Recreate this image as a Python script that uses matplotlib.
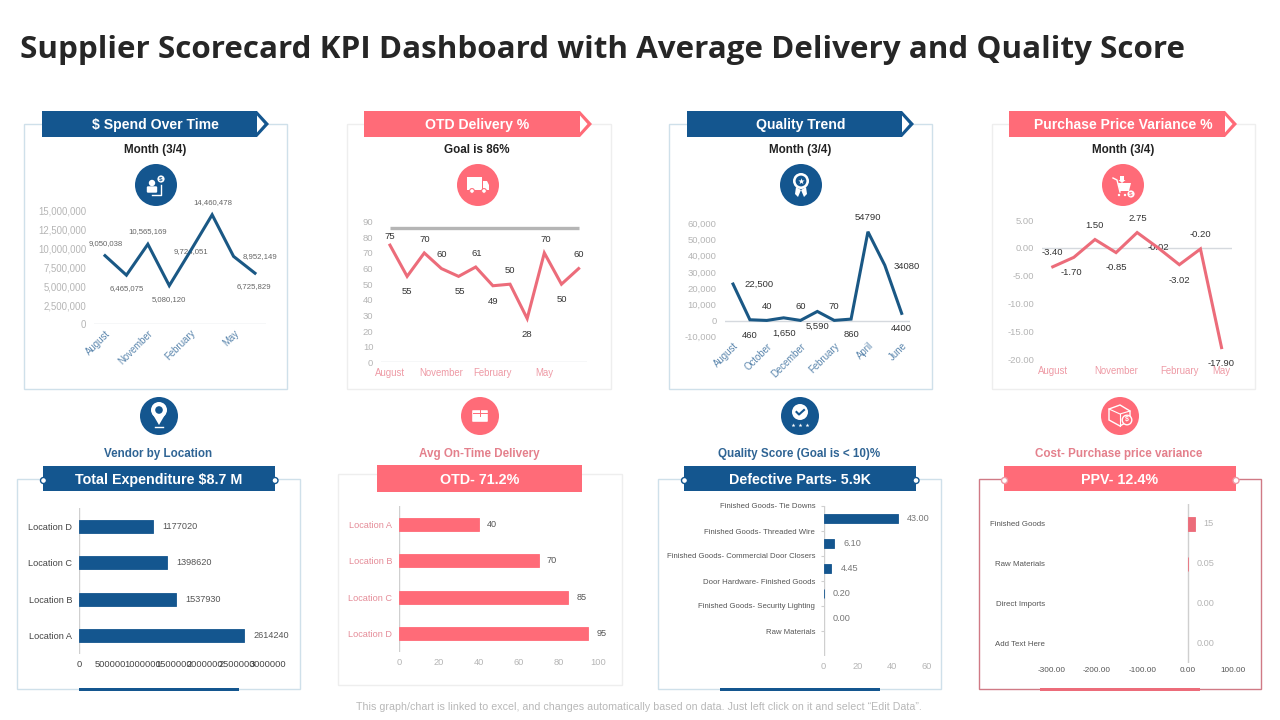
import matplotlib
matplotlib.use('Agg')
import matplotlib.pyplot as plt
from matplotlib.patches import Circle, Polygon, Rectangle, FancyBboxPatch
import numpy as np

plt.rcParams['font.family'] = ['Liberation Sans', 'DejaVu Sans']

NAVY = '#14568f'
PINK = '#ff6b78'
LINE_NAVY = '#1a5885'
LINE_PINK = '#ec6c7a'

# line charts
spend_ticks = ['August', 'November', 'February', 'May']
spend = [9050038, 6465075, 10565169, 5080120, 9724051, 14460478, 8952149, 6725829]
spend_labels = ['9,050,038', '6,465,075', '10,565,169', '5,080,120', '9,724,051', '14,460,478', '8,952,149', '6,725,829']
spend_y = [0, 2500000, 5000000, 7500000, 10000000, 12500000, 15000000]

otd_ticks = ['August', 'November', 'February', 'May']
otd = [75, 55, 70, 60, 55, 61, 49, 50, 28, 70, 50, 60]
otd_goal = 86
otd_y = [0, 10, 20, 30, 40, 50, 60, 70, 80, 90]

quality_ticks = ['August', 'October', 'December', 'February', 'April', 'June']
quality = [22500, 460, 40, 1650, 60, 5590, 70, 860, 54790, 34080, 4400]
quality_labels = ['22,500', '460', '40', '1,650', '60', '5,590', '70', '860', '54790', '34080', '4400']
quality_y = [-10000, 0, 10000, 20000, 30000, 40000, 50000, 60000]

ppv_ticks = ['August', 'November', 'February', 'May']
ppv = [-3.40, -1.70, 1.50, -0.85, 2.75, -0.02, -3.02, -0.20, -17.90]
ppv_y = [-20, -15, -10, -5, 0, 5]

# bar charts
vendor_cats = ['Location A', 'Location B', 'Location C', 'Location D']
vendor = [2614240, 1537930, 1398620, 1177020]
vendor_x = [0, 500000, 1000000, 1500000, 2000000, 2500000, 3000000]

ontime_cats = ['Location A', 'Location B', 'Location C', 'Location D']
ontime = [40, 70, 85, 95]
ontime_x = [0, 20, 40, 60, 80, 100]

defect_cats = ['Finished Goods- Tie Downs', 'Finished Goods- Threaded Wire', 'Finished Goods- Commercial Door Closers',
               'Door Hardware- Finished Goods', 'Finished Goods- Security Lighting', 'Raw Materials']
defect = [43.00, 6.10, 4.45, 0.20, 0.00]
defect_x = [0, 20, 40, 60]

cost_cats = ['Finished Goods', 'Raw Materials', 'Direct Imports', 'Add Text Here']
cost = [15, 0.05, 0.00, 0.00]
cost_labels = ['15', '0.05', '0.00', '0.00']
cost_x = [-300, -200, -100, 0, 100]

fig = plt.figure(figsize=(12.8, 7.2), dpi=100)
bg = fig.add_axes([0, 0, 1, 1])
bg.set_xlim(0, 1280)
bg.set_ylim(720, 0)
bg.axis('off')


def px_axes(left, right, top, bottom):
    ax = fig.add_axes([left / 1280, 1 - bottom / 720, (right - left) / 1280, (bottom - top) / 720])
    ax.patch.set_alpha(0)
    for s in ax.spines.values():
        s.set_visible(False)
    ax.tick_params(length=0)
    return ax


def txt(x, y, s, size, color='#222222', weight='normal', ha='center', **kw):
    bg.text(x, y + 1, s, fontsize=size, color=color, fontweight=weight, ha=ha, va='center', **kw)


def frame(x0, x1, y0, y1, color, lw=1.0):
    bg.add_patch(Rectangle((x0, y0), x1 - x0, y1 - y0, fc='none', ec=color, lw=lw))


def arrow_header(x0, x1, color, label, tx=None):
    bg.add_patch(Rectangle((x0, 111), x1 - x0, 26, fc=color, ec='none', zorder=3))
    bg.add_patch(Polygon([(x1, 111), (x1 + 12, 124), (x1, 137)], fc=color, ec='none', zorder=3))
    bg.add_patch(Polygon([(x1, 115.5), (x1 + 7.5, 124), (x1, 132.5)], fc='white', ec='none', zorder=3))
    txt(tx if tx else (x0 + x1) / 2, 124, label, 10.1, 'white', 'bold', zorder=4)


def bar_header(x0, x1, y0, y1, color, label):
    bg.add_patch(Rectangle((x0, y0), x1 - x0, y1 - y0, fc=color, ec='none', zorder=3))
    txt((x0 + x1) / 2, 479, label, 10.3, 'white', 'bold', zorder=4)


def knobs(x0, x1, color):
    for x in (x0, x1):
        bg.add_patch(Circle((x, 480.5), 3, fc='white', ec=color, lw=1, zorder=5))


def line_chart(box, vals, color, yticks, yfmt, ticks, tick_idx, tick_color, labels, offsets,
               rot=0, tick_pad=4, lab_size=6.8, lab_color='#333333'):
    ax = px_axes(*box[:4])
    x = np.arange(len(vals))
    ax.set_xlim(-0.5, len(vals) - 0.5)
    ax.set_ylim(yticks[0], yticks[-1])
    ax.plot(x, vals, color=color, lw=2.2, solid_joinstyle='miter', zorder=4, clip_on=False)
    ax.axhline(0, color='#d5d9de', lw=1, zorder=1)
    ax.set_yticks(yticks, [yfmt(v) for v in yticks], fontsize=box[4], color='#b5b5b5')
    ax.tick_params(axis='y', pad=5.8)
    if rot:
        ax.set_xticks(tick_idx, ticks, fontsize=6.9, color=tick_color, rotation=rot, ha='right', rotation_mode='anchor')
    else:
        ax.set_xticks(tick_idx, ticks, fontsize=6.9, color=tick_color)
    ax.tick_params(axis='x', pad=tick_pad)
    for xi, v, s, (dx, dy) in zip(x, vals, labels, offsets):
        ax.annotate(s, (xi, v), xytext=(dx * 0.72, dy * 0.72), textcoords='offset points', ha='center', va='center',
                    fontsize=lab_size, color=lab_color, zorder=2, annotation_clip=False)
    return ax


def bar_chart(box, vals, cats, xticks, color, cat_color, labels, lab_color, size, gap=9, bar_h=0.35, shift=0):
    ax = px_axes(*box)
    n = len(cats)
    pos = np.arange(len(vals)) + shift
    ax.set_xlim(xticks[0], xticks[-1])
    ax.set_ylim(n - 0.5 + shift, -0.5 + shift)
    ax.barh(pos, vals, height=bar_h, color=color, edgecolor=[color if v > 0 else 'none' for v in vals], linewidth=0.6, zorder=3)
    ax.axvline(0, color='#cfcfcf', lw=1, zorder=2)
    ax.set_xticks(xticks, [str(v) for v in xticks])
    ax.set_yticks(np.arange(n), cats, fontsize=size, color=cat_color)
    ax.tick_params(axis='y', pad=5)
    for p, v, s in zip(pos, vals, labels):
        ax.annotate(s, (v, p), xytext=(gap * 0.72, 0), textcoords='offset points', ha='left', va='center',
                    fontsize=6.6, color=lab_color, annotation_clip=False)
    return ax


def icon_disc(x, y, r, color):
    bg.add_patch(Circle((x, y), r, fc=color, ec='none', zorder=2))


# title and footer
txt(20, 49, 'Supplier Scorecard KPI Dashboard with Average Delivery and Quality Score', 22.6, '#262626', 'bold', ha='left',
    family=['Open Sans', 'DejaVu Sans'])
txt(639, 706, 'This graph/chart is linked to excel, and changes automatically based on data. Just left click on it and select \u201cEdit Data\u201d.',
    7.7, '#b8b8b8')

# top row frames and headers
frame(24, 287, 124, 389, '#cfe0ea')
frame(347, 611, 124, 389, '#eeeeee')
frame(669, 932, 124, 389, '#cfe0ea')
frame(992, 1255, 124, 389, '#eeeeee')
arrow_header(42, 257, NAVY, '$ Spend Over Time', 155)
arrow_header(364, 580, PINK, 'OTD Delivery %', 477)
arrow_header(687, 902, NAVY, 'Quality Trend', 801)
arrow_header(1009, 1225, PINK, 'Purchase Price Variance %', 1123)
txt(155, 149, 'Month (3/4)', 8.4, '#222222', 'bold')
txt(477, 149, 'Goal is 86%', 8.4, '#222222', 'bold')
txt(800, 149, 'Month (3/4)', 8.4, '#222222', 'bold')
txt(1123, 149, 'Month (3/4)', 8.4, '#222222', 'bold')

# top row charts
line_chart((94.3, 265.7, 210.7, 324, 6.9), spend, LINE_NAVY, spend_y, lambda v: f'{v:,}', spend_ticks, [0, 2, 4, 6], '#5b86ad',
           spend_labels, [(1, 12), (0, -13.5), (0, 13), (0, -14), (0, -1), (1, 12.5), (26, 0), (-1, -13)],
           rot=45, tick_pad=3, lab_size=5.6, lab_color='#666666')
ax2 = line_chart((381.4, 587.2, 221.7, 362.3, 6.8), otd, LINE_PINK, otd_y, str, otd_ticks, [0, 3, 6, 9], '#ee9aa5',
                 [str(v) for v in otd],
                 [(0, 8.5), (0, -15), (0, 13), (0, 14), (1, -15), (1, 13.5), (0, -16), (0, 13.5), (0, -16), (1, 13), (0, -15.5), (0, 14)])
ax2.plot([0, len(otd) - 1], [otd_goal, otd_goal], color='#b5b5b5', lw=2.4, solid_capstyle='butt')
line_chart((724.6, 910.1, 223.3, 336.7, 6.8), quality, LINE_NAVY, quality_y, lambda v: f'{v:,}', quality_ticks, [0, 2, 4, 6, 8, 10],
           '#5b86ad', quality_labels,
           [(26, 0), (0, -15.4), (0, 14.3), (0, -15.4), (0, 14.3), (0, -14.8), (0, 14), (0, -15), (0, 14.5), (22, -1), (0, -15)],
           rot=45, tick_pad=3)
line_chart((1042.2, 1232.1, 220, 359.3, 6.8), ppv, LINE_PINK, ppv_y, lambda v: f'{v:.2f}', ppv_ticks, [0, 3, 6, 8], '#ee9aa5',
           [f'{v:.2f}' for v in ppv],
           [(0, 14), (-2, -15), (0, 14), (0, -15), (1, 14), (0, 0), (0, -16), (0, 14.5), (0, -16)], tick_pad=5)

# bottom row frames, headers
frame(17, 300, 479, 689, '#cfe0ea')
frame(338, 622, 474, 685, '#eeeeee')
frame(658, 941, 479, 689, '#cfe0ea')
frame(979, 1261, 479, 689, '#d07a85')
bar_header(43, 275, 466, 491, NAVY, 'Total Expenditure $8.7 M')
bar_header(377, 582, 465, 492, PINK, 'OTD- 71.2%')
bar_header(684, 916, 466, 491, NAVY, 'Defective Parts- 5.9K')
bar_header(1004, 1236, 466, 491, PINK, 'PPV- 12.4%')
knobs(43.5, 275, NAVY)
knobs(684.5, 916, NAVY)
knobs(1004.5, 1236, '#ee9aa5')
bg.add_patch(Rectangle((79, 688), 160, 3, fc=NAVY, ec='none'))
bg.add_patch(Rectangle((720, 688), 160, 3, fc=NAVY, ec='none'))
bg.add_patch(Rectangle((1040, 688), 160, 3, fc=LINE_PINK, ec='none'))
txt(158, 453.5, 'Vendor by Location', 8.4, '#2f6494', 'bold')
txt(479.5, 453.5, 'Avg On-Time Delivery', 8.4, '#e4808c', 'bold')
txt(799, 453.5, 'Quality Score (Goal is < 10)%', 8.4, '#2f6494', 'bold')
txt(1119, 453.5, 'Cost- Purchase price variance', 8.4, '#e4808c', 'bold')

# bottom row charts
a = bar_chart((79.3, 268.3, 508, 654), vendor[::-1], vendor_cats[::-1], vendor_x, NAVY, '#444444',
              [str(v) for v in vendor[::-1]], '#555555', 6.6)
a.tick_params(axis='x', labelsize=6.7, labelcolor='#444444', pad=4)
a = bar_chart((399.3, 598.3, 506, 652), ontime, ontime_cats, ontime_x, PINK, '#e58c98',
              [str(v) for v in ontime], '#555555', 6.6, gap=8)
a.tick_params(axis='x', labelsize=6.7, labelcolor='#b5b5b5', pad=4)
a = bar_chart((823.7, 926.7, 506, 656), defect, defect_cats, defect_x, NAVY, '#555555',
              [f'{v:.2f}' for v in defect], '#777777', 5.6, bar_h=0.33, shift=0.5)
a.tick_params(axis='y', length=2, color='#cfcfcf', width=0.8, pad=4)
a.tick_params(axis='x', labelsize=6.7, labelcolor='#b5b5b5', pad=4)
a = bar_chart((1051.7, 1233.3, 504, 663), cost, cost_cats, cost_x, LINE_PINK, '#555555',
              cost_labels, '#b5b5b5', 5.7)
a.set_xticks(cost_x, [f'{v:.2f}' for v in cost_x])
a.tick_params(axis='x', labelsize=5.9, labelcolor='#555555', pad=3)

# round icons
for (x, y, r, c) in [(156, 185, 21, NAVY), (478, 185, 21, PINK), (801, 185, 21, NAVY), (1123, 185, 21, PINK),
                     (159, 416, 19, NAVY), (480, 416, 19, PINK), (800, 416, 19, NAVY), (1120, 416, 19, PINK)]:
    icon_disc(x, y, r, c)

W = dict(fc='white', ec='none', zorder=3)
# people and dollar
bg.add_patch(Circle((152, 183), 3.2, **W))
bg.add_patch(FancyBboxPatch((148, 187.5), 8, 4, boxstyle='round,pad=1.2', **W))
bg.add_patch(Circle((161, 179), 3.6, **W))
bg.plot([152, 161, 161], [194.5, 194.5, 185], color='white', lw=1, zorder=3)
# truck
bg.add_patch(Rectangle((467, 177), 15, 13, **W))
bg.add_patch(Polygon([(483, 181), (487, 181), (489, 185), (489, 190), (483, 190)], **W))
for x in (472, 484):
    bg.add_patch(Circle((x, 191), 2.4, fc='white', ec=PINK, lw=0.8, zorder=4))
# medal
bg.add_patch(Polygon([(796, 187), (801, 190), (798, 197), (795, 194)], **W))
bg.add_patch(Polygon([(806, 187), (801, 190), (804, 197), (807, 194)], **W))
bg.add_patch(Circle((801, 181), 8, **W))
bg.add_patch(Circle((801, 181), 5.4, fc=NAVY, ec='none', zorder=4))
bg.scatter([801], [181], s=22, marker='*', c='white', linewidths=0, zorder=5)
# cart
bg.plot([1113, 1117, 1120], [178, 180, 192], color='white', lw=1, zorder=3)
bg.add_patch(Polygon([(1118, 183), (1131, 183), (1129, 191), (1120, 191)], **W))
bg.add_patch(Polygon([(1120, 176), (1124, 176), (1124, 180), (1125.5, 180), (1122, 183), (1118.5, 180), (1120, 180)], **W))
for x in (1119, 1125):
    bg.add_patch(Circle((x, 195), 1.2, **W))
bg.add_patch(Circle((1131, 194), 3.6, **W))
# pin
bg.add_patch(Polygon([(152, 413), (166, 413), (159, 425)], **W))
bg.add_patch(Circle((159, 410), 8, **W))
bg.add_patch(Circle((159, 410), 3.8, fc=NAVY, ec='none', zorder=4))
bg.plot([155, 163], [427, 427], color='white', lw=1, zorder=3)
# box
bg.add_patch(FancyBboxPatch((473, 411), 14, 10, boxstyle='round,pad=0.8', **W))
bg.plot([473, 487], [413, 413], color=PINK, lw=0.7, zorder=4)
bg.plot([480, 480], [410, 416], color=PINK, lw=0.7, zorder=4)
# check badge
bg.add_patch(Circle((800, 412), 8, **W))
bg.plot([796.5, 799, 804], [412, 414.5, 410], color=NAVY, lw=1.5, zorder=4)
bg.scatter([793, 800, 807], [425, 425, 425], s=9, marker='*', c='white', linewidths=0, zorder=4)
# parcel and dollar
bg.add_patch(Polygon([(1109, 409), (1120, 405), (1130, 411), (1130, 420), (1120, 426), (1109, 420)], fc='none', ec='white', lw=1, zorder=3))
bg.plot([1109, 1120, 1130], [409, 414, 411], color='white', lw=0.8, zorder=3)
bg.plot([1120, 1120], [414, 426], color='white', lw=0.8, zorder=3)
bg.add_patch(Circle((1127, 420), 4.8, fc=PINK, ec='white', lw=1, zorder=4))
txt(1127, 419, '$', 5, 'white', 'bold', zorder=5)
txt(161, 178, '$', 4.5, NAVY, 'bold', zorder=5)
txt(1131, 193, '$', 4.5, PINK, 'bold', zorder=5)

fig.savefig('out.png', dpi=100)
